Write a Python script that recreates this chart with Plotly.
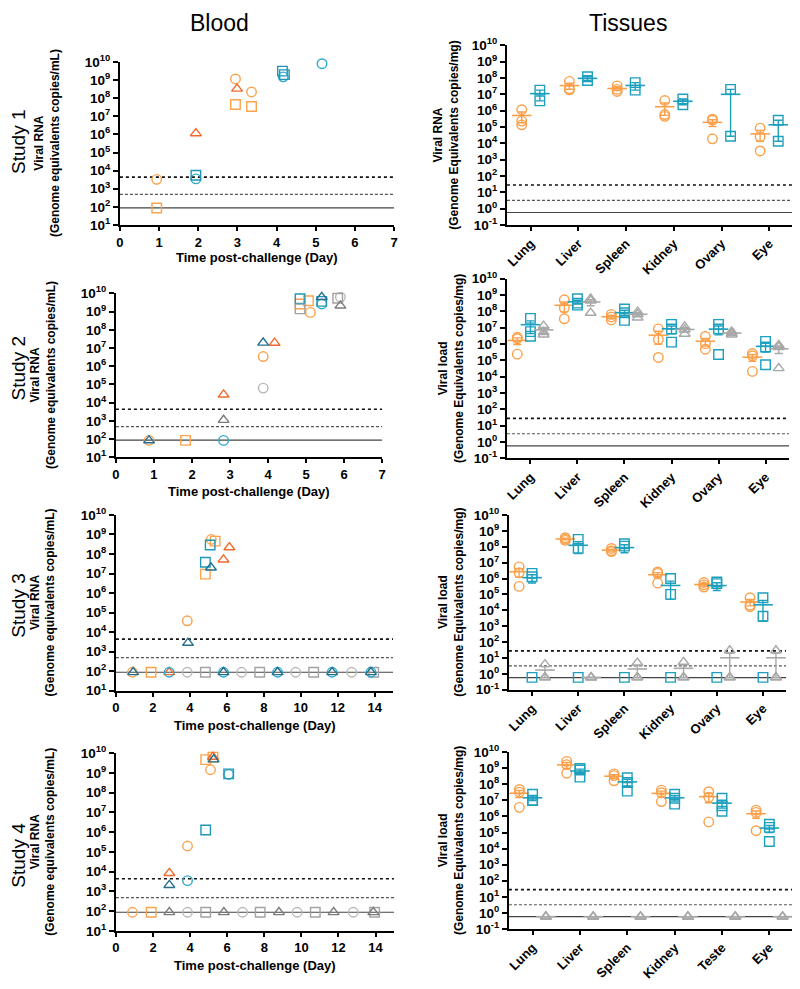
import numpy as np
import plotly.graph_objects as go

# ============================== DATA ==============================
# ---- Blood: day post-challenge / viral RNA (genome equivalents copies/mL)
# Study 1
s1_orange_circle_day = [0.94, 2.95, 3.36]
s1_orange_circle_val = [3.3e3, 1.15e9, 2.2e8]
s1_orange_square_day = [0.94, 2.95, 3.36]
s1_orange_square_val = [87, 4.5e7, 3.5e7]
s1_red_triangle_day = [1.94, 2.99]
s1_red_triangle_val = [1.15e6, 3.3e8]
s1_cyan_circle_day = [1.94, 4.17, 5.16]
s1_cyan_circle_val = [3.5e3, 1.5e9, 8.0e9]
s1_teal_square_day = [1.94, 4.15, 4.2]
s1_teal_square_val = [5.6e3, 3.1e9, 2.0e9]

# Study 2
s2_orange_circle_day = [0.87, 3.87, 5.11]
s2_orange_circle_val = [85, 3.4e6, 9.0e8]
s2_orange_square_day = [1.83, 4.84, 5.06]
s2_orange_square_val = [85, 2.6e9, 3.9e9]
s2_red_triangle_day = [2.83, 4.17]
s2_red_triangle_val = [2.75e4, 1.9e7]
s2_cyan_circle_day = [2.83, 5.41]
s2_cyan_circle_val = [85, 2.6e9]
s2_teal_square_day = [4.84, 5.41]
s2_teal_square_val = [5.0e9, 3.6e9]
s2_dteal_triangle_day = [0.87, 3.87, 5.41]
s2_dteal_triangle_val = [85, 1.95e7, 6.2e9]
s2_gray_circle_day = [3.87, 5.9]
s2_gray_circle_val = [6.3e4, 6.2e9]
s2_gray_square_day = [4.84, 5.83]
s2_gray_square_val = [1.4e9, 5.4e9]
s2_gray_triangle_day = [2.83, 5.9]
s2_gray_triangle_val = [1.12e3, 2.1e9]

# Study 3
s3_orange_circle_day = [0.89, 3.86, 5.16]
s3_orange_circle_val = [88, 3.8e4, 5.6e8]
s3_orange_square_day = [1.9, 4.84, 5.37]
s3_orange_square_val = [88, 9.3e6, 4.6e8]
s3_red_triangle_day = [2.88, 5.82, 6.14]
s3_red_triangle_val = [88, 5.2e7, 2.2e8]
s3_cyan_circle_day = [2.88, 5.82, 8.75, 11.7, 13.8]
s3_cyan_circle_val = [88, 88, 88, 88, 88]
s3_teal_square_day = [4.84, 5.1]
s3_teal_square_val = [3.8e7, 2.9e8]
s3_dteal_triangle_day = [0.93, 3.9, 5.14, 5.82, 8.75, 11.7, 13.8]
s3_dteal_triangle_val = [88, 2.8e3, 2.0e7, 88, 88, 88, 88]
s3_gray_circle_day = [3.86, 6.8, 9.73, 12.76]
s3_gray_circle_val = [88, 88, 88, 88]
s3_gray_square_day = [4.84, 7.78, 10.7, 13.95]
s3_gray_square_val = [88, 88, 88, 88]

# Study 4
s4_orange_circle_day = [0.89, 3.86, 5.1]
s4_orange_circle_val = [88, 2.0e5, 1.45e9]
s4_orange_square_day = [1.9, 4.84, 5.23]
s4_orange_square_val = [88, 4.7e9, 6.3e9]
s4_red_triangle_day = [2.88, 5.23]
s4_red_triangle_val = [8.5e3, 6.5e9]
s4_cyan_circle_day = [3.86, 6.08]
s4_cyan_circle_val = [3.5e3, 8.5e8]
s4_teal_square_day = [4.84, 6.08]
s4_teal_square_val = [1.3e6, 9.0e8]
s4_dteal_triangle_day = [2.88, 5.27]
s4_dteal_triangle_val = [2.1e3, 4.8e9]
s4_gray_circle_day = [3.86, 6.83, 9.77, 12.8]
s4_gray_circle_val = [88, 88, 88, 88]
s4_gray_square_day = [4.84, 7.78, 10.75, 13.95]
s4_gray_square_val = [88, 88, 88, 88]
s4_gray_triangle_day = [2.88, 5.82, 8.79, 11.74, 13.88]
s4_gray_triangle_val = [88, 88, 88, 88, 88]

# Blood reference lines (copies/mL)
BLOOD_DOTTED = 4400
BLOOD_DASHED = 490
BLOOD_SOLID = 88

# ---- Tissues: viral load (genome equivalents copies/mg), 3 animals/group
TISSUES_A = ["Lung", "Liver", "Spleen", "Kidney", "Ovary", "Eye"]
TISSUES_B = ["Lung", "Liver", "Spleen", "Kidney", "Teste", "Eye"]

t1_orange = [[1.15e6, 2.3e5, 1.35e5], [6.2e7, 2.2e7, 1.9e7], [3.3e7, 2.0e7, 1.5e7],
             [4.2e6, 5.8e5, 4.5e5], [3.0e5, 2.6e5, 1.9e4], [8.5e4, 2.5e4, 3.4e3]]
t1_teal = [[1.8e7, 4.0e6], [7.0e7, 1.2e8], [1.8e7, 5.2e7],
           [2.3e6, 5.2e6], [2.0e7, 2.7e4], [2.6e5, 1.35e4]]

t2_orange = [[2.6e6, 2.1e6, 2.4e5], [5.1e8, 1.6e8, 3.5e7], [6.5e7, 4.5e7, 3.0e7],
             [8.4e6, 1.9e6, 1.5e5], [2.9e6, 1.05e6, 4.8e5], [2.6e5, 1.9e5, 2.1e4]]
t2_teal = [[3.7e7, 5.7e6, 3.0e6], [5.9e8, 3.2e8, 2.4e8], [1.4e8, 8.2e7, 2.8e7],
           [1.6e7, 8.3e6, 1.3e6], [1.6e7, 8.3e6, 2.3e5], [1.45e6, 6.6e5, 5.4e4]]
t2_gray = [[1.3e7, 5.3e6, 3.8e6], [5.9e8, 4.5e8, 8.1e7], [9.3e7, 6.5e7, 4.1e7],
           [1.15e7, 7.6e6, 4.2e6], [5.7e6, 4.6e6, 3.8e6], [8.5e5, 6.5e5, 3.3e4]]

t3_orange = [[5.4e6, 2.3e6, 3.2e5], [3.7e8, 3.0e8, 2.5e8], [7.8e7, 5.6e7, 5.0e7],
             [2.6e6, 2.1e6, 5.1e5], [5.6e5, 4.0e5, 2.9e5], [6.2e4, 2.1e4, 1.7e4]]
t3_teal = [[2.1e6, 1.3e6, 0.6], [2.9e8, 8.0e7, 0.6], [1.55e8, 1.1e8, 0.6],
           [1.0e6, 1.0e5, 0.6], [6.0e5, 4.8e5, 0.6], [6.2e4, 4.2e3, 0.6]]
t3_gray = [[4.0, 0.6, 0.6], [0.6, 0.6, 0.6], [4.9, 0.6, 0.6],
           [5.5, 0.6, 0.6], [29.5, 0.6, 0.6], [29.5, 0.6, 0.6]]

t4_orange = [[4.8e7, 3.3e7, 3.7e6], [2.7e9, 1.7e9, 4.9e8], [4.5e8, 3.5e8, 1.66e8],
             [4.4e7, 3.0e7, 8.5e6], [3.5e7, 1.6e7, 4.6e5], [2.5e6, 1.8e6, 1.3e5]]
t4_teal = [[2.4e7, 1.02e7, 9.7e6], [9.8e8, 7.8e8, 2.8e8], [2.6e8, 1.3e8, 3.8e7],
           [2.4e7, 1.35e7, 5.9e6], [1.35e7, 4.7e6, 2.1e6], [3.3e5, 2.1e5, 2.8e4]]
t4_gray = [[0.58, 0.58, 0.58], [0.58, 0.58, 0.58], [0.58, 0.58, 0.58],
           [0.58, 0.58, 0.58], [0.58, 0.58, 0.58], [0.58, 0.58, 0.58]]

# Tissue reference lines (copies/mg)
TISSUE_DOTTED = 28
TISSUE_DASHED = 3.2
TISSUE_SOLID = 0.58

STUDY_LABELS = ["Study 1", "Study 2", "Study 3", "Study 4"]
BLOOD_YTITLE = ["Viral RNA", "(Genome equivalents copies/mL)"]
TISSUE_YTITLES = [["Viral RNA", "(Genome Equivalents copies/mg)"],
                  ["Viral load", "(Genome Equivalents copies/mg)"],
                  ["Viral load", "(Genome Equivalents copies/mg)"],
                  ["Viral load", "(Genome Equivalents copies/mg)"]]

# ============================== STYLE ==============================
PAGE_W, PAGE_H = 800, 989
OFF = 8                      # default page body margin
W, H = PAGE_W - OFF, PAGE_H - 2 * OFF
FONT = "Liberation Sans, Arial, sans-serif"

ORANGE = "#FBA34E"
RED_ORANGE = "#F26A2C"
CYAN = "#2AAACD"
TEAL = "#1E98B4"
DARK_TEAL = "#256F8D"
GRAY_LIGHT = "#B8B8B8"
GRAY_MID = "#A2A2A2"
GRAY_DARK = "#7C7C7C"

T_ORANGE = "#FBA04A"
T_TEAL = "#1CA0BE"
T_GRAY = "#A8A8A8"

STYLE = {
    "orange_circle": ("circle-open", ORANGE),
    "orange_square": ("square-open", ORANGE),
    "red_triangle": ("triangle-up-open", RED_ORANGE),
    "cyan_circle": ("circle-open", CYAN),
    "teal_square": ("square-open", TEAL),
    "dteal_triangle": ("triangle-up-open", DARK_TEAL),
    "gray_circle": ("circle-open", GRAY_LIGHT),
    "gray_square": ("square-open", GRAY_MID),
    "gray_triangle": ("triangle-up-open", GRAY_DARK),
}

BLOOD = [
    [("orange_circle", s1_orange_circle_day, s1_orange_circle_val),
     ("orange_square", s1_orange_square_day, s1_orange_square_val),
     ("red_triangle", s1_red_triangle_day, s1_red_triangle_val),
     ("cyan_circle", s1_cyan_circle_day, s1_cyan_circle_val),
     ("teal_square", s1_teal_square_day, s1_teal_square_val)],
    [("orange_circle", s2_orange_circle_day, s2_orange_circle_val),
     ("orange_square", s2_orange_square_day, s2_orange_square_val),
     ("red_triangle", s2_red_triangle_day, s2_red_triangle_val),
     ("cyan_circle", s2_cyan_circle_day, s2_cyan_circle_val),
     ("teal_square", s2_teal_square_day, s2_teal_square_val),
     ("dteal_triangle", s2_dteal_triangle_day, s2_dteal_triangle_val),
     ("gray_circle", s2_gray_circle_day, s2_gray_circle_val),
     ("gray_square", s2_gray_square_day, s2_gray_square_val),
     ("gray_triangle", s2_gray_triangle_day, s2_gray_triangle_val)],
    [("gray_circle", s3_gray_circle_day, s3_gray_circle_val),
     ("gray_square", s3_gray_square_day, s3_gray_square_val),
     ("orange_circle", s3_orange_circle_day, s3_orange_circle_val),
     ("orange_square", s3_orange_square_day, s3_orange_square_val),
     ("red_triangle", s3_red_triangle_day, s3_red_triangle_val),
     ("cyan_circle", s3_cyan_circle_day, s3_cyan_circle_val),
     ("teal_square", s3_teal_square_day, s3_teal_square_val),
     ("dteal_triangle", s3_dteal_triangle_day, s3_dteal_triangle_val)],
    [("gray_circle", s4_gray_circle_day, s4_gray_circle_val),
     ("gray_square", s4_gray_square_day, s4_gray_square_val),
     ("gray_triangle", s4_gray_triangle_day, s4_gray_triangle_val),
     ("orange_circle", s4_orange_circle_day, s4_orange_circle_val),
     ("orange_square", s4_orange_square_day, s4_orange_square_val),
     ("red_triangle", s4_red_triangle_day, s4_red_triangle_val),
     ("cyan_circle", s4_cyan_circle_day, s4_cyan_circle_val),
     ("teal_square", s4_teal_square_day, s4_teal_square_val),
     ("dteal_triangle", s4_dteal_triangle_day, s4_dteal_triangle_val)],
]

TISSUE = [
    (TISSUES_A, [(t1_orange, "circle-open", T_ORANGE, -0.19),
                 (t1_teal, "square-open", T_TEAL, 0.19)]),
    (TISSUES_A, [(t2_orange, "circle-open", T_ORANGE, -0.28),
                 (t2_teal, "square-open", T_TEAL, 0.0),
                 (t2_gray, "triangle-up-open", T_GRAY, 0.28)]),
    (TISSUES_A, [(t3_orange, "circle-open", T_ORANGE, -0.28),
                 (t3_teal, "square-open", T_TEAL, 0.0),
                 (t3_gray, "triangle-up-open", T_GRAY, 0.28)]),
    (TISSUES_B, [(t4_orange, "circle-open", T_ORANGE, -0.28),
                 (t4_teal, "square-open", T_TEAL, 0.0),
                 (t4_gray, "triangle-up-open", T_GRAY, 0.28)]),
]

# page-pixel boxes (left, right, top, bottom) of each plot area
BLOOD_BOX = [(117, 394, 53, 220), (113, 382, 290, 458), (113, 393, 517, 697), (113, 394, 761, 943)]
TISSUE_BOX = [(508, 797, 36, 220), (508, 793, 275, 459), (510, 790, 517, 696), (510, 797, 760, 941)]
BLOOD_XMAX = [7, 7, 15, 15]
BLOOD_XTITLE_Y = [253, 493, 733, 978]
BLOOD_YTITLE_X = [44, 40, 39, 39]
TISSUE_YTITLE_X = [447, 451, 452, 451]
STUDY_Y = [135, 367, 610, 865]

MSIZE = 9.5
MLINE = 1.4
TICK_SIZE = 13.5


def fx(px):
    return min(1.0, max(0.0, (px - OFF) / W))


def fy(py):
    return min(1.0, max(0.0, 1 - (py - OFF) / H))


fig = go.Figure()


def ax_name(i):
    return ("x" if i == 1 else f"x{i}"), ("y" if i == 1 else f"y{i}")


def ref_lines(xa, ya, x0, x1, dotted, dashed, solid):
    for val, dash, col, wd in [(dotted, "dot", "#111111", 1.6),
                               (dashed, "3px,2px", "#555555", 1.2),
                               (solid, "solid", "#444444", 1.2)]:
        fig.add_trace(go.Scatter(x=[x0, x1], y=[val, val], mode="lines",
                                 line=dict(color=col, width=wd, dash=dash),
                                 xaxis=xa, yaxis=ya, showlegend=False, hoverinfo="skip"))


axis_base = dict(showline=True, linecolor="black", linewidth=2, ticks="outside",
                 ticklen=5, tickwidth=2, tickcolor="black", showgrid=False,
                 zeroline=False, mirror=False,
                 tickfont=dict(family=FONT, size=TICK_SIZE, color="black", weight="bold"))

layout_axes = {}
annotations = []

# ---- Blood panels
for k in range(4):
    idx = k + 1
    xa, ya = ax_name(idx)
    l, r, t, b = BLOOD_BOX[k]
    xmax = BLOOD_XMAX[k]
    ref_lines(xa, ya, 0, xmax, BLOOD_DOTTED, BLOOD_DASHED, BLOOD_SOLID)
    for key, days, vals in BLOOD[k]:
        sym, col = STYLE[key]
        fig.add_trace(go.Scatter(x=days, y=vals, mode="markers", xaxis=xa, yaxis=ya,
                                 marker=dict(symbol=sym, size=MSIZE, color=col,
                                             line=dict(color=col, width=MLINE)),
                                 cliponaxis=False, showlegend=False))
    step = 1 if xmax == 7 else 2
    xt = list(range(0, xmax + 1 if xmax == 7 else 15, step))
    layout_axes["xaxis" + ("" if idx == 1 else str(idx))] = dict(
        axis_base, domain=[fx(l), fx(r)], range=[0, xmax], tickvals=xt,
        anchor=ya, ticklen=4,
        tickfont=dict(family=FONT, size=13, color="black", weight="bold"))
    exps = list(range(1, 11))
    layout_axes["yaxis" + ("" if idx == 1 else str(idx))] = dict(
        axis_base, type="log", domain=[fy(b), fy(t)], range=[1, 10],
        tickvals=[10.0 ** e for e in exps],
        ticktext=[f"10<sup>{e}</sup>" for e in exps], anchor=xa)
    annotations.append(dict(x=fx((l + r) / 2), y=fy(BLOOD_XTITLE_Y[k]),
                            xref="paper", yref="paper", showarrow=False,
                            text="<b>Time post-challenge (Day)</b>",
                            font=dict(family=FONT, size=13, color="black"),
                            xanchor="center", yanchor="middle"))
    annotations.append(dict(x=fx(BLOOD_YTITLE_X[k]), y=fy((t + b) / 2),
                            xref="paper", yref="paper", showarrow=False,
                            textangle=-90,
                            text="<b>" + BLOOD_YTITLE[0] + "<br>" + BLOOD_YTITLE[1] + "</b>",
                            font=dict(family=FONT, size=12, color="black"),
                            xanchor="center", yanchor="middle"))
    annotations.append(dict(x=fx(15), y=fy(STUDY_Y[k]), xref="paper", yref="paper",
                            showarrow=False, textangle=-90, text=STUDY_LABELS[k],
                            font=dict(family=FONT, size=19, color="black"),
                            xanchor="center", yanchor="middle"))

# ---- Tissue panels
for k in range(4):
    idx = k + 5
    xa, ya = ax_name(idx)
    l, r, t, b = TISSUE_BOX[k]
    names, groups = TISSUE[k]
    ref_lines(xa, ya, -0.5, 5.5, TISSUE_DOTTED, TISSUE_DASHED, TISSUE_SOLID)
    for data, sym, col, off in groups:
        px, py, mx, my, se = [], [], [], [], []
        for i, vals in enumerate(data):
            v = np.array(vals, dtype=float)
            px += [i + off] * len(v)
            py += list(v)
            mx.append(i + off)
            my.append(v.mean())
            se.append(v.std(ddof=1) / np.sqrt(len(v)))
        fig.add_trace(go.Scatter(x=px, y=py, mode="markers", xaxis=xa, yaxis=ya,
                                 marker=dict(symbol=sym, size=MSIZE, color=col,
                                             line=dict(color=col, width=MLINE)),
                                 cliponaxis=False, showlegend=False))
        fig.add_trace(go.Scatter(x=mx, y=my, mode="markers", xaxis=xa, yaxis=ya,
                                 marker=dict(symbol="line-ew", size=14, color=col,
                                             line=dict(color=col, width=1.6)),
                                 error_y=dict(type="data", array=se, symmetric=True,
                                              color=col, thickness=1.4, width=4),
                                 cliponaxis=False, showlegend=False))
    layout_axes["xaxis" + str(idx)] = dict(
        axis_base, domain=[fx(l), fx(r)], range=[-0.5, 5.5],
        tickvals=list(range(len(names))), ticktext=names, tickangle=-45, anchor=ya,
        ticklen=4, tickfont=dict(family=FONT, size=13, color="black", weight="bold"))
    exps = list(range(-1, 11))
    layout_axes["yaxis" + str(idx)] = dict(
        axis_base, type="log", domain=[fy(b), fy(t)], range=[-1, 10],
        tickvals=[10.0 ** e for e in exps],
        ticktext=[f"10<sup>{e}</sup>" for e in exps], anchor=xa)
    yt = TISSUE_YTITLES[k]
    annotations.append(dict(x=fx(TISSUE_YTITLE_X[k]), y=fy((t + b) / 2),
                            xref="paper", yref="paper", showarrow=False,
                            textangle=-90,
                            text="<b>" + yt[0] + "<br>" + yt[1] + "</b>",
                            font=dict(family=FONT, size=12, color="black"),
                            xanchor="center", yanchor="middle"))

annotations.append(dict(x=fx(218), y=fy(13), xref="paper", yref="paper",
                        showarrow=False, text="Blood",
                        font=dict(family=FONT, size=23, color="black"),
                        xanchor="center", yanchor="middle"))
annotations.append(dict(x=fx(630), y=fy(13), xref="paper", yref="paper",
                        showarrow=False, text="Tissues",
                        font=dict(family=FONT, size=23, color="black"),
                        xanchor="center", yanchor="middle"))

fig.update_layout(width=W, height=H, margin=dict(l=0, r=0, t=0, b=0),
                  paper_bgcolor="white", plot_bgcolor="white",
                  showlegend=False, annotations=annotations, **layout_axes)

fig.write_html("out.html")
